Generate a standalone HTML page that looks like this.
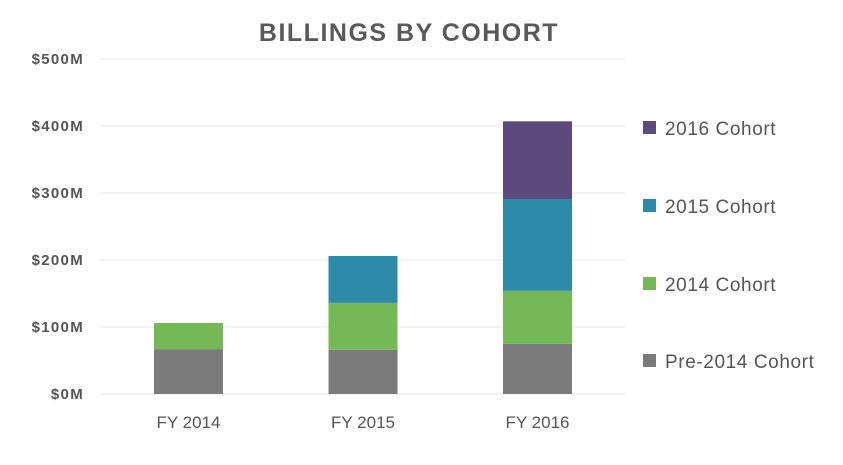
<!DOCTYPE html>
<html><head><meta charset="utf-8"><style>
body{margin:0;background:#fff;width:843px;height:460px;overflow:hidden;font-family:"Liberation Sans",sans-serif}
</style></head><body>
<svg id="c" width="843" height="460"></svg>
<script>
const categories=["FY 2014","FY 2015","FY 2016"];
const pre2014=[67,66,75];
const c2014=[39,70,79];
const c2015=[0,70,137];
const c2016=[0,0,116];
const ticks=[0,100,200,300,400,500];
const tickLabels=["$0M","$100M","$200M","$300M","$400M","$500M"];
const seriesNames=["Pre-2014 Cohort","2014 Cohort","2015 Cohort","2016 Cohort"];
const colors=["#7b7b7b","#74b955","#2d8baa","#5e4a7d"];
const ns="http://www.w3.org/2000/svg";
const svg=document.getElementById('c');
const y=v=>394-v*0.67;
const x=i=>154+i*174.5;
const bw=69;
function mk(t,a,txt){const e=document.createElementNS(ns,t);for(const k in a)e.setAttribute(k,a[k]);if(txt!==undefined)e.textContent=txt;svg.appendChild(e);return e;}
let t=mk('text',{x:409,y:41,'text-anchor':'middle','font-size':25,'font-weight':'bold',fill:'#595959','letter-spacing':1.5},'BILLINGS BY COHORT');


ticks.forEach((v,i)=>{
 let g=mk('line',{x1:100,x2:625,y1:y(v),y2:y(v),stroke:'#e6e6e6','stroke-width':1});
 
 
 let l=mk('text',{x:84,y:y(v)+5,'text-anchor':'end','font-size':15,'font-weight':'bold',fill:'#555','letter-spacing':1.3},tickLabels[i]);
 
 
});
const series=[pre2014,c2014,c2015,c2016];
categories.forEach((cat,i)=>{
 let base=0;
 series.forEach((s,j)=>{
  if(s[i]>0){
   let r=mk('rect',{x:x(i),y:y(base+s[i]),width:bw,height:y(base)-y(base+s[i]),fill:colors[j]});
   
   
  }
  base+=s[i];
 });
 let l=mk('text',{x:x(i)+bw/2,y:428,'text-anchor':'middle','font-size':17,fill:'#555'},cat);
 
 
});
const ly=[361,284,206,128];
seriesNames.forEach((n,j)=>{
 let r=mk('rect',{x:643,y:ly[j]-7,width:13,height:13,fill:colors[j]});
 
 
 let l=mk('text',{x:665,y:ly[j]+7,'font-size':19,fill:'#555','letter-spacing':0.6},n);
 
 
});
</script>
</body></html>
